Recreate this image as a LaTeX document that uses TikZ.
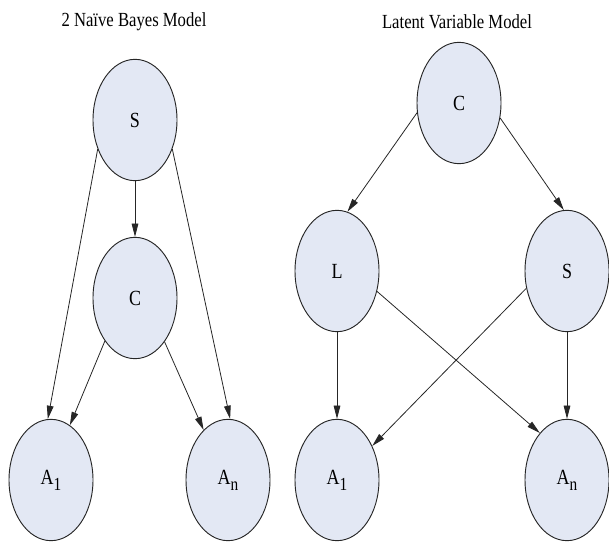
\documentclass[tikz,border=0pt]{standalone}
\usepackage{fontspec}
\setmainfont{Liberation Serif}
\usetikzlibrary{shapes.geometric,arrows.meta}
\definecolor{nodefill}{HTML}{E3E8F4}
\newcommand{\tall}[1]{\scalebox{1}[1.2]{#1}}
\newcommand{\lowidx}[1]{\raisebox{-0.6ex}{\fontsize{11.5}{12}\selectfont #1}}

\begin{document}
\begin{tikzpicture}[
    x=0.75pt, y=-0.75pt,
    font=\fontsize{12.5}{14}\selectfont,
    var/.style={ellipse, draw=black!85, line width=0.7pt, fill=nodefill,
      minimum width=63pt, minimum height=91pt, inner sep=0pt,
      font=\fontsize{13.5}{15}\selectfont},
    title/.style={inner sep=0pt},
    link/.style={-{Triangle[length=10pt, width=5pt]}, line width=0.6pt, black!85}
  ]
  \useasboundingbox (0,0) rectangle (609,542);
  % naive Bayes model
  \node [title] (nbtitle) at (134,22) {\tall{2 Naïve Bayes Model}};
  \node [var] (nbS) at (135,120) {\tall{S}};
  \node [var] (nbC) at (135,298) {\tall{C}};
  \node [var] (nbA1) at (51,480) {\tall{A\lowidx{1}}};
  \node [var] (nbAn) at (228,480) {\tall{A\lowidx{n}}};
  \draw [link] (nbS.270) -- (nbC.90);
  \draw [link] (nbS.218) -- (nbA1.93);
  \draw [link] (nbS.322) -- (nbAn.88);
  \draw [link] (nbC.235) -- (nbA1.71);
  \draw [link] (nbC.304) -- (nbAn.116);
  % latent variable model
  \node [title] (lvtitle) at (457,22) {\tall{Latent Variable Model}};
  \node [var] (lvC) at (459,103) {\tall{C}};
  \node [var] (lvL) at (337,271) {\tall{L}};
  \node [var] (lvS) at (567,271) {\tall{S}};
  \node [var] (lvA1) at (337,480) {\tall{A\lowidx{1}}};
  \node [var] (lvAn) at (567,480) {\tall{A\lowidx{n}}};
  \draw [link] (lvC.193) -- (lvL.80);
  \draw [link] (lvC.340) -- (lvS.93);
  \draw [link] (lvL.270) -- (lvA1.90);
  \draw [link] (lvS.270) -- (lvAn.90);
  \draw [link] (lvL.333) -- (lvAn.120);
  \draw [link] (lvS.203) -- (lvA1.44);
\end{tikzpicture}
\end{document}
